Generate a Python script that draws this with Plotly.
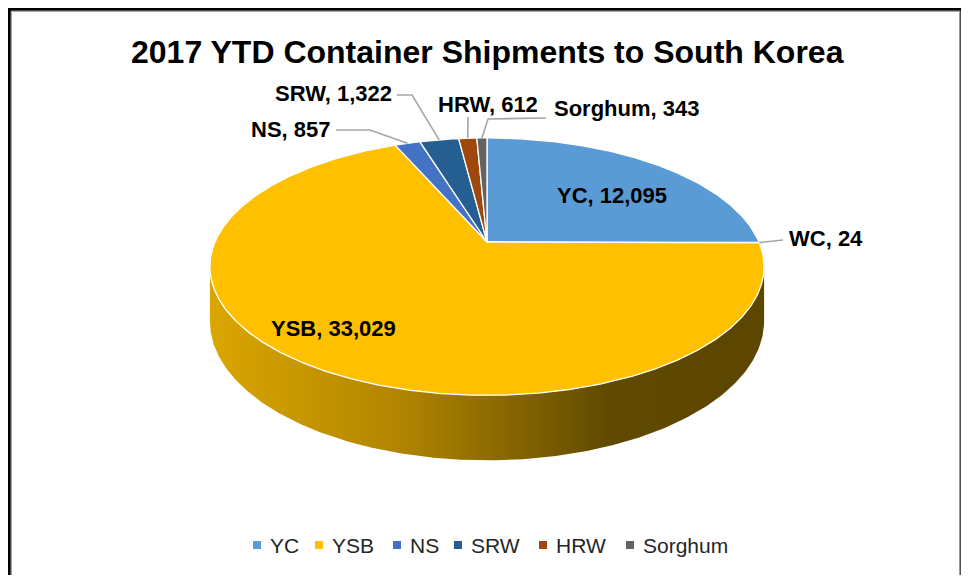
import numpy as np
import plotly.graph_objects as go

# ---------------- data ----------------
categories = ["YC", "WC", "YSB", "NS", "SRW", "HRW", "Sorghum"]
shipments = [12095, 24, 33029, 857, 1322, 612, 343]
slice_colors = ["#5B9BD5", "#ED7D31", "#FFC000", "#4472C4", "#255E91", "#9E480E", "#636363"]
legend_categories = ["YC", "YSB", "NS", "SRW", "HRW", "Sorghum"]
title_text = "2017 YTD Container Shipments to South Korea"

# ---------------- page / coordinate frame (axis units == screen pixels) ----------------
W, HGT = 969, 583
OFF = 8                     # default page margin of the html body
# ---------------- geometry of the tilted (perspective) pie ----------------
CX, CY = 487, 242          # apex of the pie on the top face
A, B = 272, 124            # horizontal / vertical semi-axes
P = 0.191                  # perspective factor
DEPTH = 52.6               # thickness of the pie


def rim(theta_deg, r=1.0, drop=0.0):
    t = np.radians(np.asarray(theta_deg, dtype=float))
    d = 1 - P * r * np.sin(t)
    x = CX + A * r * np.cos(t) / d
    y = CY + B * r * np.sin(t) / d + drop / d
    return x, y


total = float(sum(shipments))
cum = np.concatenate([[0.0], np.cumsum(shipments)])
start_ang = -90 + 360 * cum[:-1] / total
end_ang = -90 + 360 * cum[1:] / total
mid_ang = (start_ang + end_ang) / 2

fig = go.Figure()

# side wall (front, visible part belongs to YSB)
ext = np.degrees(np.arcsin(P))
th = np.linspace(ext, 180 - ext, 300)
xt, yt = rim(th)
xb, yb = rim(th[::-1], drop=DEPTH)
fig.add_trace(go.Scatter(
    x=np.concatenate([xt, xb, xt[:1]]), y=np.concatenate([yt, yb, yt[:1]]),
    mode="lines", line=dict(width=0, color="rgba(0,0,0,0)"), fill="toself",
    fillgradient=dict(type="horizontal",
                      colorscale=[[0, "#DBA600"], [0.35, "#B08400"], [0.72, "#604A00"], [1, "#5C4600"]]),
    hoverinfo="skip", showlegend=False))

# top face slices
for cat, a0, a1, col in zip(categories, start_ang, end_ang, slice_colors):
    n = max(3, int((a1 - a0) / 0.5) + 2)
    th = np.linspace(a0, a1, n)
    xr, yr = rim(th)
    fig.add_trace(go.Scatter(
        x=np.concatenate([[CX], xr, [CX]]), y=np.concatenate([[CY], yr, [CY]]),
        mode="lines", line=dict(width=1.3, color="white"), fill="toself", fillcolor=col,
        name=cat, hoverinfo="skip", showlegend=False))

# data labels
FONT = "Liberation Sans, Arial, sans-serif"
lab_font = dict(family=FONT, size=22, color="#000000")


def label_text(cat):
    v = shipments[categories.index(cat)]
    return f"<b>{cat}, {v:,}</b>"


annotations = []
annotations.append(dict(x=612, y=195, text=label_text("YC"), showarrow=False, font=lab_font,
                        xanchor="center", yanchor="middle"))
annotations.append(dict(x=333, y=328, text=label_text("YSB"), showarrow=False, font=lab_font,
                        xanchor="center", yanchor="middle"))

# outside labels: (text anchor x, y, xanchor, elbow points before the rim point)
outside = {
    "WC": (787, 238, "left", [(783, 240)]),
    "NS": (333, 129, "right", [(336, 130), (370, 130)]),
    "SRW": (394, 93, "right", [(397, 95), (412, 95)]),
    "HRW": (488, 104, "center", [(468, 117)]),
    "Sorghum": (552, 108, "left", [(546, 118), (488, 119)]),
}
for cat, (tx, ty, xa, pts) in outside.items():
    i = categories.index(cat)
    rx, ry = rim(mid_ang[i])
    xs = [p[0] for p in pts] + [float(rx)]
    ys = [p[1] for p in pts] + [float(ry)]
    fig.add_trace(go.Scatter(x=xs, y=ys, mode="lines", line=dict(color="#A6A6A6", width=1.6),
                             hoverinfo="skip", showlegend=False))
    annotations.append(dict(x=tx, y=ty, text=label_text(cat), showarrow=False, font=lab_font,
                            xanchor=xa, yanchor="middle"))

annotations.append(dict(x=487, y=52, text=f"<b>{title_text}</b>", showarrow=False,
                        font=dict(family=FONT, size=32, color="#000000"),
                        xanchor="center", yanchor="middle"))

# legend (laid out like the Excel legend: small square, then the name)
LEG_Y = 545
leg_marker_x = [257, 319, 397, 458, 543, 630]
leg_cols = [slice_colors[categories.index(c)] for c in legend_categories]
fig.add_trace(go.Scatter(x=leg_marker_x, y=[LEG_Y] * len(leg_marker_x), mode="markers",
                         marker=dict(symbol="square", size=8, color=leg_cols),
                         hoverinfo="skip", showlegend=False))
for mx, cat in zip(leg_marker_x, legend_categories):
    annotations.append(dict(x=mx + 11, y=LEG_Y, text=cat, showarrow=False,
                            font=dict(family=FONT, size=21, color="#262626"),
                            xanchor="left", yanchor="middle"))

# chart frame: thick dark outer line with a thin grey inner line
shapes = [
    dict(type="rect", xref="x", yref="y", x0=9.3, y0=9.3, x1=961.8, y1=640,
         line=dict(color="#000000", width=3)),
    dict(type="rect", xref="x", yref="y", x0=11.3, y0=11.3, x1=959.6, y1=640,
         line=dict(color="#8C8C8C", width=1)),
]

fig.update_layout(
    width=W - OFF, height=HGT - 2 * OFF, autosize=False,
    margin=dict(l=0, r=0, t=0, b=0, pad=0),
    paper_bgcolor="white", plot_bgcolor="white",
    xaxis=dict(range=[OFF, W], visible=False, fixedrange=True),
    yaxis=dict(range=[HGT - OFF, OFF], visible=False, fixedrange=True),
    showlegend=False,
    annotations=annotations,
    shapes=shapes,
)

fig.write_html("out.html")
